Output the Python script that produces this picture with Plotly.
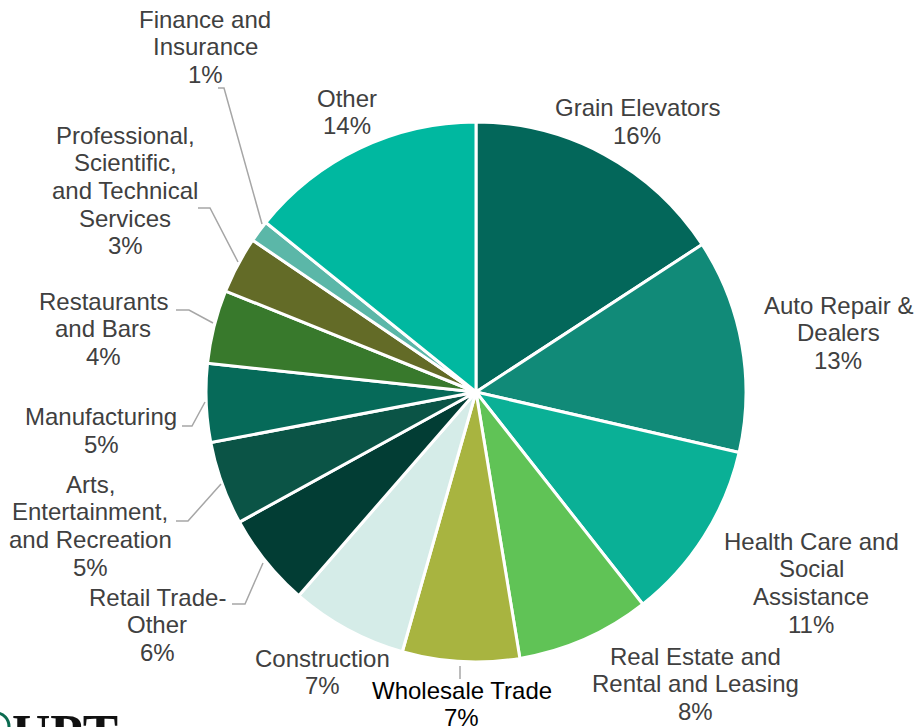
import plotly.graph_objects as go

W, H = 917, 727

categories = ["Grain Elevators", "Auto Repair & Dealers", "Health Care and Social Assistance",
              "Real Estate and Rental and Leasing", "Wholesale Trade", "Construction",
              "Retail Trade-Other", "Arts, Entertainment, and Recreation", "Manufacturing",
              "Restaurants and Bars", "Professional, Scientific, and Technical Services",
              "Finance and Insurance", "Other"]
# slice shares (percent)
values = [15.8, 12.8, 10.8, 8.0, 7.0, 7.0, 5.6, 5.0, 4.7, 4.4, 3.4, 1.3, 14.2]
# percentages printed on the labels
pct_labels = ["16%", "13%", "11%", "8%", "7%", "7%", "6%", "5%", "5%", "4%", "3%", "1%", "14%"]
colors = ["#03675A", "#118A78", "#0AB096", "#60C356", "#A8B440", "#D5ECE8",
          "#023D34", "#0B5446", "#066A59", "#38792C", "#636B27", "#5BB7A8", "#00B8A0"]

name_lines = [
    ["Grain Elevators"],
    ["Auto Repair &", "Dealers"],
    ["Health Care and", "Social", "Assistance"],
    ["Real Estate and", "Rental and Leasing"],
    ["Wholesale Trade"],
    ["Construction"],
    ["Retail Trade-", "Other"],
    ["Arts,", "Entertainment,", "and Recreation"],
    ["Manufacturing"],
    ["Restaurants", "and Bars"],
    ["Professional,", "Scientific,", "and Technical", "Services"],
    ["Finance and", "Insurance"],
    ["Other"],
]
# label block placement (center x, first line y) in pixels
label_pos = [(637, 108), (838, 305), (811, 541), (695, 656), (462, 690), (322, 658),
             (157, 597), (90, 484), (101, 417), (103, 301), (125, 135), (205, 19), (347, 98)]
leaders = [
    None, None, None, None,
    [(460, 666), (460, 679)],
    None,
    [(232, 604), (245, 604), (263, 563)],
    [(176, 521), (188, 521), (221, 484)],
    [(182, 426), (192, 426), (205, 402)],
    [(176, 310), (189, 310), (213, 323)],
    [(198, 208), (210, 208), (238, 262)],
    [(218, 88), (224, 88), (262, 224)],
    None,
]

cx, cy, r = 476, 392, 270
fig = go.Figure(go.Pie(
    labels=categories, values=values, sort=False, direction="clockwise", rotation=0,
    marker=dict(colors=colors, line=dict(color="white", width=3)),
    textinfo="none", hoverinfo="label", showlegend=False,
    domain=dict(x=[(cx - r) / W, (cx + r) / W], y=[1 - (cy + r) / H, 1 - (cy - r) / H]),
))

def px(x):
    return x / W

def py(y):
    return 1 - y / H

annotations = []
for i, lines in enumerate(name_lines):
    x0, y0 = label_pos[i]
    col = "#000000" if categories[i] == "Wholesale Trade" else "#404040"
    for j, t in enumerate(lines + [pct_labels[i]]):
        annotations.append(dict(
            x=px(x0), y=py(y0 + 27.7 * j), xref="paper", yref="paper", text=t,
            showarrow=False, xanchor="center", yanchor="middle",
            font=dict(family="Liberation Sans, Arial, sans-serif", size=24, color=col)))

shapes = []
for pts in leaders:
    if not pts:
        continue
    path = "M " + " L ".join(f"{px(a)},{py(b)}" for a, b in pts)
    shapes.append(dict(type="path", path=path, xref="paper", yref="paper",
                       line=dict(color="#A6A6A6", width=1.5)))

# partial logo at bottom-left
annotations.append(dict(x=px(10), y=py(702), xref="paper", yref="paper", text="<b>UPT</b>",
                        showarrow=False, xanchor="left", yanchor="top",
                        font=dict(family="Liberation Serif, Times New Roman, serif", size=53, color="#111111")))
shapes.append(dict(type="circle", xref="paper", yref="paper",
                   x0=px(-16), x1=px(9), y0=py(740), y1=py(713),
                   line=dict(color="#0B6B50", width=3), fillcolor="white"))

fig.update_layout(width=W, height=H, margin=dict(l=0, r=0, t=0, b=0),
                  paper_bgcolor="white", plot_bgcolor="white",
                  annotations=annotations, shapes=shapes)
fig.write_html("out.html", config={"displayModeBar": False},
               post_script="document.body.style.margin='0';document.body.style.overflow='hidden';")
